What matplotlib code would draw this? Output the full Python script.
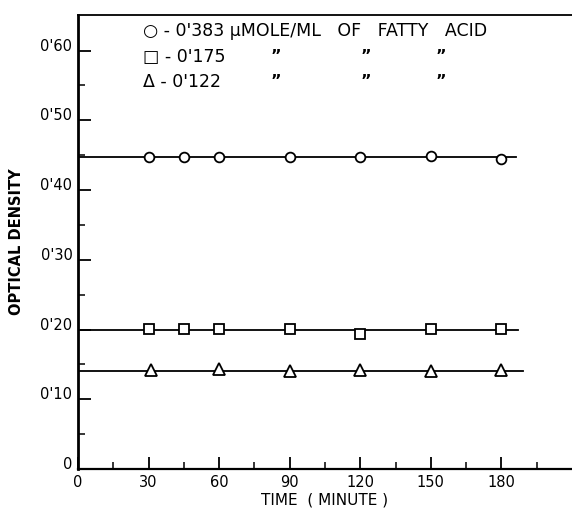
import matplotlib.pyplot as plt
import numpy as np

# data
t_circle = [30, 45, 60, 90, 120, 150, 180]
od_circle = [0.447, 0.447, 0.447, 0.447, 0.447, 0.449, 0.444]
t_square = [30, 45, 60, 90, 120, 150, 180]
od_square = [0.201, 0.201, 0.201, 0.201, 0.194, 0.201, 0.201]
t_tri = [31, 60, 90, 120, 150, 180]
od_tri = [0.142, 0.143, 0.141, 0.142, 0.140, 0.142]

# drawn mean lines: level, end time
fit_levels = [0.447, 0.200, 0.141]
fit_ends = [186, 187, 189]

x_ticks = [0, 30, 60, 90, 120, 150, 180]
y_ticks = [0, 0.1, 0.2, 0.3, 0.4, 0.5, 0.6]
y_labels = ["0", "0'10", "0'20", "0'30", "0'40", "0'50", "0'60"]

plt.rcParams['font.family'] = ['DejaVu Sans']
fig = plt.figure(figsize=(5.72, 5.13), dpi=100)
ax = fig.add_axes([0.1364, 0.0858, 0.8636, 0.885])

for lvl, end in zip(fit_levels, fit_ends):
    ax.plot([0, end], [lvl, lvl], color="black", lw=1.3, zorder=1)

mk = dict(color="black", markerfacecolor="white", markeredgewidth=1.3, linestyle="none", zorder=3)
ax.plot(t_circle, od_circle, marker="o", markersize=7, **mk)
ax.plot(t_square, od_square, marker="s", markersize=7, **mk)
ax.plot(t_tri, od_tri, marker="^", markersize=8, **mk)

ax.set_xlim(0, 210)
ax.set_ylim(0, 0.651)
ax.set_xticks(x_ticks)
ax.set_xticks(np.arange(15, 210, 15), minor=True)
ax.set_yticks(y_ticks)
ax.set_yticklabels(y_labels)
ax.set_yticks(np.arange(0.05, 0.65, 0.1), minor=True)

ax.spines['right'].set_visible(False)
ax.spines['left'].set_linewidth(2)
ax.spines['bottom'].set_linewidth(1.6)
ax.spines['top'].set_linewidth(1.3)
ax.tick_params(axis="both", which="major", direction="in", length=9, width=1.3,
               labelsize=10.5, pad=4)
ax.tick_params(axis="both", which="minor", direction="in", length=5, width=1.1)
ax.tick_params(axis="x", pad=4)
for lab in ax.get_yticklabels():
    lab.set_verticalalignment("baseline")

ax.set_xlabel("TIME  ( MINUTE )", fontsize=11, labelpad=2)
ax.set_ylabel("OPTICAL DENSITY", fontsize=10.5, fontweight="bold", labelpad=12)

# key written on the plot
fs = 12.5
ax.text(27.5, 0.628, "○ - 0'383 μMOLE/ML   OF   FATTY   ACID", fontsize=fs, va="center")
ax.text(27.5, 0.591, "□ - 0'175", fontsize=fs, va="center")
ax.text(27.5, 0.555, "Δ - 0'122", fontsize=fs, va="center")
for y in [0.591, 0.555]:
    for x in [82, 120, 152]:
        ax.text(x, y, "\u201d", fontsize=fs - 1, fontweight="bold", va="center")

fig.savefig("out.png", dpi=100)
